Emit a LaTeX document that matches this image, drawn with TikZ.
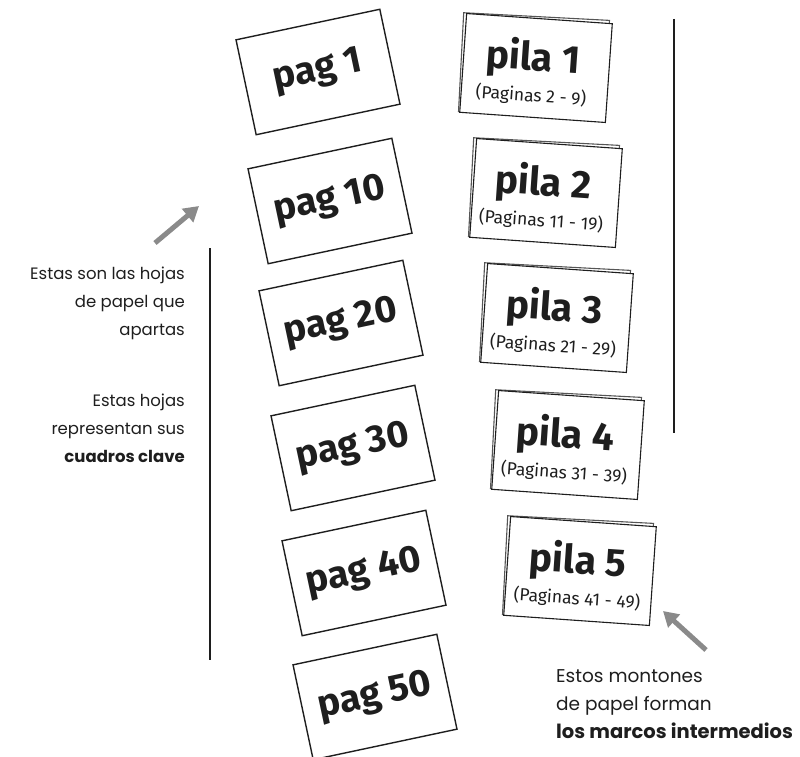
\documentclass[tikz,border=0pt]{standalone}
\usepackage{fontspec}
\setmainfont{Poppins}
\newfontfamily\boxfont{Fira Sans}
\usetikzlibrary{arrows.meta}
\definecolor{arrowgray}{HTML}{8A8A8A}
\definecolor{inkdark}{HTML}{1E1E1E}
\definecolor{stackgray}{HTML}{555555}
\begin{document}
\begin{tikzpicture}[x=1pt,y=-1pt,
  pagbox/.style={draw=inkdark, line width=1.4pt, fill=white, rotate=12,
    minimum width=147pt, minimum height=97pt, inner sep=0pt,
    text=inkdark, font=\boxfont\bfseries\fontsize{38}{38}\selectfont},
  pilaback/.style={draw=stackgray, line width=1.1pt, fill=white, rotate=-3,
    minimum width=146pt, minimum height=99pt, inner sep=0pt},
  pilabox/.style={draw=inkdark, line width=1.1pt, fill=white, rotate=-4,
    minimum width=146pt, minimum height=99pt, inner sep=0pt},
  pilatitle/.style={rotate=-4, inner sep=0pt, text=inkdark,
    font=\boxfont\bfseries\fontsize{39}{39}\selectfont},
  pilasub/.style={rotate=-4, inner sep=0pt, text=inkdark,
    font=\boxfont\fontsize{17.5}{17.5}\selectfont},
  annot/.style={inner sep=0pt, text=inkdark,
    font=\fontsize{16.5}{28}\selectfont},
  annotbig/.style={inner sep=0pt, text=inkdark,
    font=\fontsize{18.5}{28}\selectfont},
  vline/.style={draw=inkdark, line width=2.4pt},
  grayarrow/.style={draw=arrowgray, line width=5pt,
    -{Triangle[length=15pt,width=17pt]}}
]
\useasboundingbox (0,0) rectangle (800,757);

% page sheets
\node[pagbox] (pag1)  at (318,72)  {pag 1};
\node[pagbox] (pag10) at (330,201) {pag 10};
\node[pagbox] (pag20) at (341,323) {pag 20};
\node[pagbox] (pag30) at (353,448) {pag 30};
\node[pagbox] (pag40) at (364,573) {pag 40};
\node[pagbox] (pag50) at (375,697) {pag 50};

% stacks
\node[pilaback] (pila1b) at (534,66)  {};
\node[pilabox]  (pila1)  at (536,68)  {};
\node[pilatitle] (pila1t) at (533,59) {pila 1};
\node[pilasub]   (pila1s) at (531,96) {(Paginas 2 - 9)};

\node[pilaback] (pila2b) at (544,191) {};
\node[pilabox]  (pila2)  at (546,193) {};
\node[pilatitle] (pila2t) at (543,184) {pila 2};
\node[pilasub]   (pila2s) at (541,221) {(Paginas 11 - 19)};

\node[pilaback] (pila3b) at (555,316) {};
\node[pilabox]  (pila3)  at (557,318) {};
\node[pilatitle] (pila3t) at (554,309) {pila 3};
\node[pilasub]   (pila3s) at (553,346) {(Paginas 21 - 29)};

\node[pilaback] (pila4b) at (566,443) {};
\node[pilabox]  (pila4)  at (568,445) {};
\node[pilatitle] (pila4t) at (565,436) {pila 4};
\node[pilasub]   (pila4s) at (564,473) {(Paginas 31 - 39)};

\node[pilaback] (pila5b) at (578,569) {};
\node[pilabox]  (pila5)  at (580,571) {};
\node[pilatitle] (pila5t) at (578,562) {pila 5};
\node[pilasub]   (pila5s) at (577,599) {(Paginas 41 - 49)};

% vertical bars
\coordinate (barLtop) at (210,248);
\coordinate (barLbot) at (210,660);
\coordinate (barRtop) at (674,19);
\coordinate (barRbot) at (674,433);
\draw[vline] (barLtop) -- (barLbot);
\draw[vline] (barRtop) -- (barRbot);

% arrows
\coordinate (arrLs) at (155,243);
\coordinate (arrLe) at (199,206);
\coordinate (arrRs) at (706,650);
\coordinate (arrRe) at (663,611);
\draw[grayarrow] (arrLs) -- (arrLe);
\draw[grayarrow] (arrRs) -- (arrRe);

% annotations (anchor = baseline of last line)
\node[annot, anchor=base east, align=right] (noteA) at (185,335)
  {Estas son las hojas\\de papel que\\apartas};
\node[annot, anchor=base east, align=right] (noteB) at (185,462)
  {Estas hojas\\representan sus\\\textbf{cuadros clave}};
\node[annotbig, anchor=base west, align=left] (noteC) at (556,738)
  {Estos montones\\de papel forman\\{\fontsize{19.5}{28}\selectfont\textbf{los marcos intermedios}}};
\end{tikzpicture}
\end{document}
